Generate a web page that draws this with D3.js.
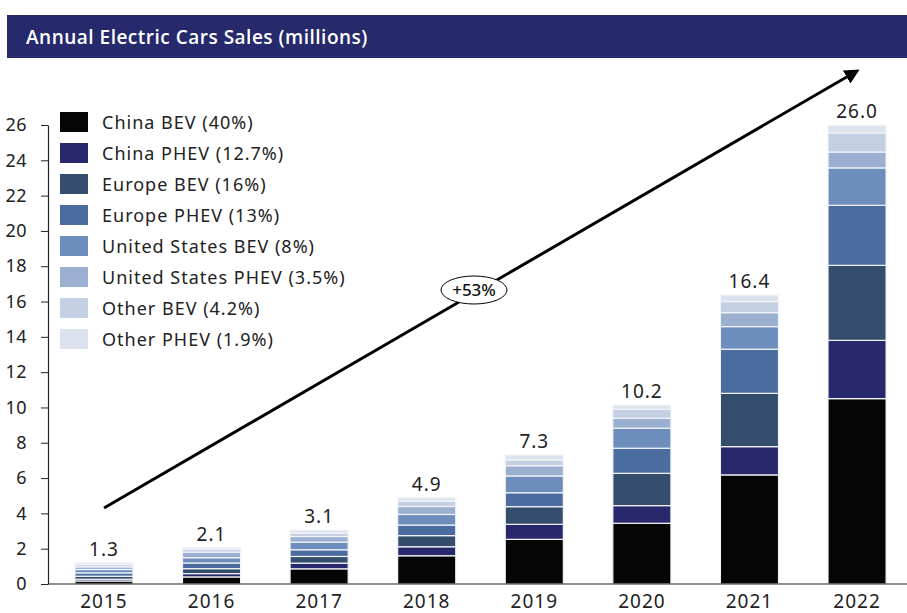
<!DOCTYPE html>
<html>
<head>
<meta charset="utf-8">
<script src="https://cdn.jsdelivr.net/npm/d3@7"></script>
<style>
  body { margin: 0; background: #fff; }
  text { font-family: "Noto Sans", "Open Sans", sans-serif; }
</style>
</head>
<body>
<div id="chart"></div>
<script>
// data (millions)
const years = ["2015", "2016", "2017", "2018", "2019", "2020", "2021", "2022"];
const totalLabels = ["1.3", "2.1", "3.1", "4.9", "7.3", "10.2", "16.4", "26.0"];
const chinaBEV   = [0.17, 0.40, 0.86, 1.60, 2.53, 3.44, 6.18, 10.50];
const chinaPHEV  = [0.10, 0.19, 0.32, 0.51, 0.85, 1.00, 1.60, 3.30];
const europeBEV  = [0.17, 0.28, 0.38, 0.63, 1.00, 1.83, 3.02, 4.25];
const europePHEV = [0.19, 0.32, 0.38, 0.60, 0.79, 1.42, 2.50, 3.40];
const usBEV      = [0.19, 0.30, 0.43, 0.60, 0.95, 1.13, 1.28, 2.12];
const usPHEV     = [0.15, 0.32, 0.32, 0.45, 0.58, 0.57, 0.79, 0.90];
const otherBEV   = [0.13, 0.15, 0.19, 0.30, 0.33, 0.51, 0.63, 1.08];
const otherPHEV  = [0.10, 0.10, 0.17, 0.20, 0.28, 0.24, 0.37, 0.43];

const seriesNames = ["China BEV (40%)", "China PHEV (12.7%)", "Europe BEV (16%)", "Europe PHEV (13%)",
  "United States BEV (8%)", "United States PHEV (3.5%)", "Other BEV (4.2%)", "Other PHEV (1.9%)"];
const seriesColors = ["#050505", "#27296c", "#344d6d", "#4a6c9e", "#6d8ebd", "#9bafd0", "#c3cfe2", "#dde3ee"];
const yTicks = [0, 2, 4, 6, 8, 10, 12, 14, 16, 18, 20, 22, 24, 26];
const growthLabel = "+53%";

const width = 907, height = 613;
const keys = ["cb", "cp", "eb", "ep", "ub", "up", "ob", "op"];
const allSeries = [chinaBEV, chinaPHEV, europeBEV, europePHEV, usBEV, usPHEV, otherBEV, otherPHEV];

// table for d3.stack
const rows = years.map((y, i) => {
  const r = { year: y };
  keys.forEach((k, j) => r[k] = allSeries[j][i]);
  return r;
});

const svg = d3.select("#chart").append("svg")
  .attr("width", width)
  .attr("height", height);

// header band
svg.append("rect")
  .attr("x", 7).attr("y", 15)
  .attr("width", width - 7).attr("height", 43)
  .attr("fill", "#262a6c");
svg.append("text")
  .attr("x", 26).attr("y", 44)
  .attr("fill", "#fff")
  .attr("font-size", 19)
  .attr("font-weight", 600)
  .attr("letter-spacing", 0.5)
  .style("font-family", "'Open Sans', sans-serif")
  .text("Annual Electric Cars Sales (millions)");

const x = d3.scaleBand()
  .domain(years)
  .range([48, 913])
  .paddingInner(0.46)
  .paddingOuter(0.25);

const y = d3.scaleLinear()
  .domain([0, 26])
  .range([584, 125]);

const stacked = d3.stack().keys(keys)(rows);

// bars
svg.append("g").selectAll("g")
  .data(stacked)
  .join("g")
  .attr("fill", (d, i) => seriesColors[i])
  .selectAll("rect")
  .data(d => d)
  .join("rect")
  .attr("x", d => x(d.data.year))
  .attr("y", d => y(d[1]))
  .attr("width", x.bandwidth())
  .attr("height", d => y(d[0]) - y(d[1]))
  .attr("stroke", "#f2f4f8")
  .attr("stroke-width", 1.2);

// totals above bars
const tops = stacked[stacked.length - 1];
svg.append("g").selectAll("text")
  .data(tops)
  .join("text")
  .attr("x", d => x(d.data.year) + x.bandwidth() / 2)
  .attr("y", d => y(d[1]) - 7)
  .attr("text-anchor", "middle")
  .attr("font-size", 19)
  .attr("letter-spacing", 1)
  .attr("fill", "#222")
  .text((d, i) => totalLabels[i]);

// y axis
const yAxis = svg.append("g")
  .attr("transform", "translate(48,0)")
  .call(d3.axisLeft(y).tickValues(yTicks).tickSize(7).tickPadding(14).tickSizeOuter(0));
yAxis.select(".domain").attr("stroke", "#222").attr("stroke-width", 1.2);
yAxis.selectAll(".tick line").attr("stroke", "#222");
yAxis.selectAll("text").attr("font-size", 18).attr("fill", "#222")
  .attr("letter-spacing", 0.5)
  .style("font-family", "'Noto Sans', sans-serif");

// x axis
const xAxis = svg.append("g")
  .attr("transform", "translate(0,584)")
  .call(d3.axisBottom(x).tickSize(0).tickPadding(11));
xAxis.select(".domain").attr("d", "M48,0H907").attr("stroke", "#222").attr("stroke-width", 1.2);
xAxis.selectAll("text").attr("font-size", 19).attr("fill", "#222")
  .attr("letter-spacing", 1)
  .style("font-family", "'Noto Sans', sans-serif");

// legend
const legend = svg.append("g").attr("transform", "translate(60,112)");
const item = legend.selectAll("g")
  .data(seriesNames)
  .join("g")
  .attr("transform", (d, i) => `translate(0,${i * 31})`);
item.append("rect")
  .attr("width", 28).attr("height", 20)
  .attr("fill", (d, i) => seriesColors[i]);
item.append("text")
  .attr("x", 42).attr("y", 17)
  .attr("font-size", 18)
  .attr("letter-spacing", 1)
  .attr("fill", "#222")
  .text(d => d);

// growth arrow
svg.append("defs").append("marker")
  .attr("id", "head")
  .attr("viewBox", "0 0 10 10")
  .attr("refX", 8).attr("refY", 5)
  .attr("markerWidth", 5).attr("markerHeight", 5)
  .attr("orient", "auto")
  .append("path")
  .attr("d", "M0,0L10,5L0,10Z")
  .attr("fill", "#000");

svg.append("line")
  .attr("x1", 104).attr("y1", 508)
  .attr("x2", 857).attr("y2", 71)
  .attr("stroke", "#000")
  .attr("stroke-width", 3)
  .attr("marker-end", "url(#head)");

svg.append("ellipse")
  .attr("cx", 474).attr("cy", 290)
  .attr("rx", 33).attr("ry", 14)
  .attr("fill", "#fff")
  .attr("stroke", "#000")
  .attr("stroke-width", 1);
svg.append("text")
  .attr("x", 474).attr("y", 296)
  .attr("text-anchor", "middle")
  .attr("font-size", 17)
  .attr("font-weight", 500)
  .attr("fill", "#111")
  .text(growthLabel);
</script>
</body>
</html>
